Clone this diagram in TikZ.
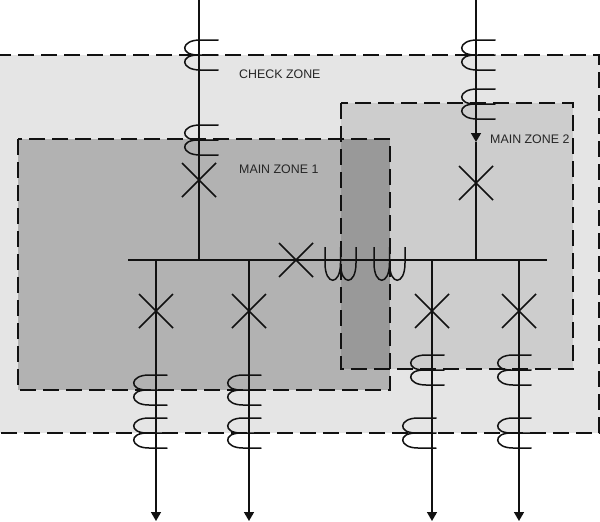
\documentclass[tikz,border=0pt]{standalone}
\usepackage{fontspec}
\setmainfont{Liberation Sans}
\usetikzlibrary{arrows.meta}
\definecolor{inkc}{HTML}{111111}
\tikzset{
  zone/.style={draw=inkc,line width=1.3pt,dash pattern=on 16pt off 7pt},
  wire/.style={draw=inkc,line width=1.5pt},
  feeder/.style={wire,-{Triangle[length=9pt,width=10pt]}},
  ztext/.style={font=\fontsize{12.4}{14}\selectfont,text=black!85,anchor=west,inner sep=0pt},
  breaker/.pic={\draw[wire] (-17,-17)--(17,17) (-17,17)--(17,-17);},
  coil/.pic={\draw[wire,line cap=round] (20,-15)--(2,-15) .. controls (-17,-15) and (-19,0) .. (0,0) -- (20,0)
     (0,0) .. controls (-19,0) and (-17,15) .. (2,15) -- (20,15);},
  ct/.pic={\draw[wire] (-15.5,-13) -- (-15.5,3) .. controls (-15.5,26) and (0,26) .. (0,3) -- (0,-13)
      (0,3) .. controls (0,26) and (15.5,26) .. (15.5,3) -- (15.5,-13);}
}
\begin{document}
\begin{tikzpicture}[x=1pt,y=-1pt]
\useasboundingbox (0,0) rectangle (600,522);
% zones
\fill[black!10] (0,55) rectangle (600,433);
\fill[black!30] (18,139) rectangle (390,390);
\fill[black!19.5] (341,103) rectangle (573,369);
\fill[black!40] (341,139) rectangle (390,369);
\draw[zone] (-5,55) -- (599,55) -- (599,433) -- (-5,433);
\draw[zone] (18,139) rectangle (390,390);
\draw[zone] (341,103) rectangle (573,369);
% coordinates
\coordinate (bl) at (128,260); \coordinate (br) at (547,260);
\coordinate (t1) at (199,0); \coordinate (b1) at (199,260);
\coordinate (t2) at (476,0); \coordinate (b2) at (476,260);
\coordinate (a2) at (476,142);
\coordinate (f1a) at (156,260); \coordinate (f1b) at (156,521);
\coordinate (f2a) at (249,260); \coordinate (f2b) at (249,521);
\coordinate (f3a) at (432,260); \coordinate (f3b) at (432,521);
\coordinate (f4a) at (519,260); \coordinate (f4b) at (519,521);
% wires
\draw[wire] (bl) -- (br);
\draw[wire] (t1) -- (b1);
\draw[feeder] (t2) -- (a2);
\draw[wire] (a2) -- (b2);
\draw[feeder] (f1a) -- (f1b);
\draw[feeder] (f2a) -- (f2b);
\draw[feeder] (f3a) -- (f3b);
\draw[feeder] (f4a) -- (f4b);
% breakers
\path (199,180) pic {breaker};
\path (476,183) pic {breaker};
\path (296,260) pic {breaker};
\path (156,311) pic {breaker};
\path (249,311) pic {breaker};
\path (432,311) pic {breaker};
\path (519,311) pic {breaker};
% current transformers
\path (198,55) pic {coil}; \path (198,140) pic {coil};
\path (475,55) pic {coil}; \path (475,104) pic {coil};
\path (147,390) pic {coil}; \path (147,433) pic {coil};
\path (241,390) pic {coil}; \path (241,433) pic {coil};
\path (424,370) pic {coil}; \path (416,433) pic {coil};
\path (511,370) pic {coil}; \path (511,433) pic {coil};
\path (340.5,260) pic {ct}; \path (389.5,260) pic {ct};
% labels
\node[ztext] (check) at (239,74) {CHECK ZONE};
\node[ztext] (main1) at (239,169) {MAIN ZONE 1};
\node[ztext] (main2) at (490,139) {MAIN ZONE 2};
\end{tikzpicture}
\end{document}
